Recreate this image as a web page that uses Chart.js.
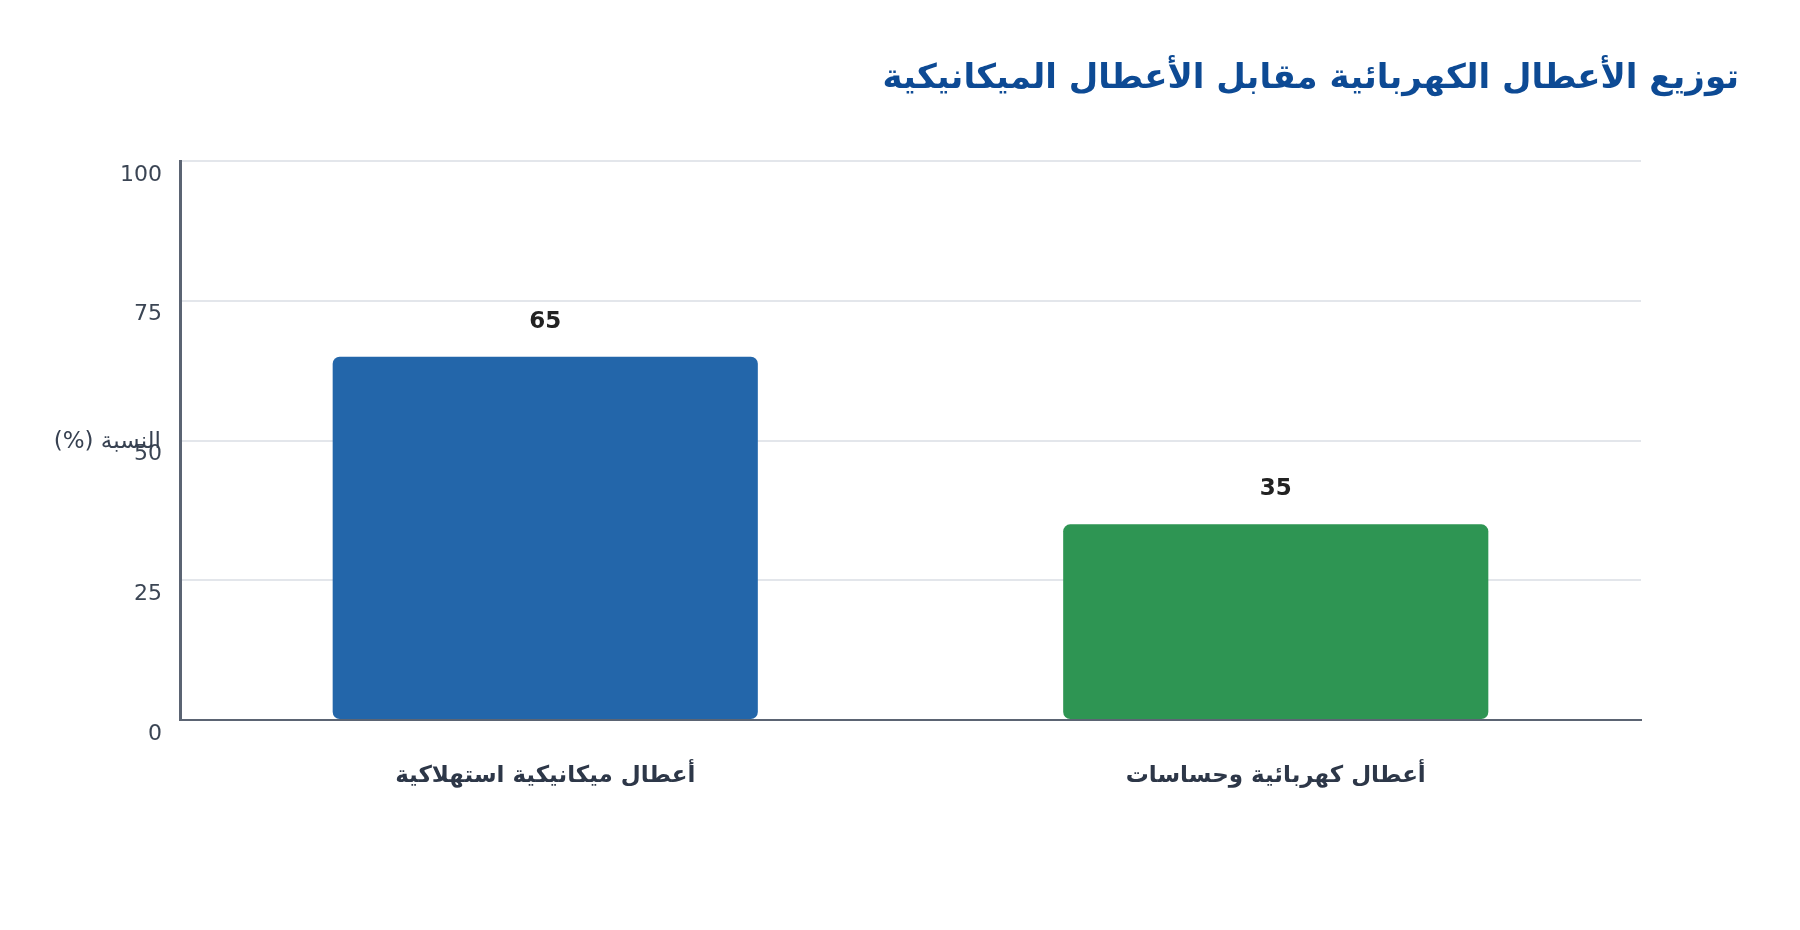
<!DOCTYPE html>
<html lang="ar">
<head>
<meta charset="utf-8">
<script src="https://cdn.jsdelivr.net/npm/chart.js@4.4.1/dist/chart.umd.min.js"></script>
<style>
  html, body { margin: 0; padding: 0; background: #ffffff; }
  #wrap { width: 1800px; height: 930px; }
</style>
</head>
<body>
<div id="wrap"><canvas id="chart"></canvas></div>
<script>
const chartTitle = 'توزيع الأعطال الكهربائية مقابل الأعطال الميكانيكية';
const yTitle = 'النسبة (%)';
const categories = ['أعطال ميكانيكية استهلاكية', 'أعطال كهربائية وحساسات'];
const shares = [65, 35];
const barColors = ['#2366aa', '#2e9553'];
const yTicks = [0, 25, 50, 75, 100];

const FONT = "'DejaVu Sans', sans-serif";

// title, horizontal y-axis title and the value labels above the bars
const extras = {
  id: 'extras',
  afterDraw(chart) {
    const { ctx, chartArea } = chart;
    ctx.save();
    ctx.direction = 'rtl';

    ctx.fillStyle = '#0d4a94';
    ctx.font = 'bold 34px ' + FONT;
    ctx.textAlign = 'right';
    ctx.textBaseline = 'middle';
    ctx.fillText(chartTitle, 1739, 79);

    ctx.fillStyle = '#374151';
    ctx.font = '23px ' + FONT;
    ctx.fillText(yTitle, 161, (chartArea.top + chartArea.bottom) / 2 + 2);

    ctx.fillStyle = '#222222';
    ctx.font = 'bold 23px ' + FONT;
    ctx.textAlign = 'center';
    chart.getDatasetMeta(0).data.forEach((bar, i) => {
      ctx.fillText(String(shares[i]), bar.x, bar.y - 35);
    });
    ctx.restore();
  }
};

new Chart(document.getElementById('chart'), {
  type: 'bar',
  data: {
    labels: categories,
    datasets: [{
      data: shares,
      backgroundColor: barColors,
      borderRadius: 7,
      borderSkipped: false,
      barPercentage: 0.582,
      categoryPercentage: 1.0
    }]
  },
  options: {
    responsive: true,
    maintainAspectRatio: false,
    animation: false,
    devicePixelRatio: 1,
    layout: { padding: { top: 161, right: 159, bottom: 0, left: 0 } },
    plugins: {
      legend: { display: false },
      tooltip: { enabled: false },
      title: { display: false }
    },
    scales: {
      x: {
        afterFit: (scale) => { scale.height = 210; },
        grid: { display: false },
        border: { display: true, color: '#5b6473', width: 2 },
        ticks: {
          padding: 34,
          color: '#2d3748',
          font: { family: FONT, size: 23, weight: 'bold' }
        }
      },
      y: {
        min: 0,
        max: 100,
        afterFit: (scale) => { scale.width = 180; },
        afterBuildTicks: (scale) => { scale.ticks = yTicks.map(v => ({ value: v })); },
        grid: { color: '#e3e6eb', lineWidth: 2, drawTicks: false },
        border: { display: true, color: '#5b6473', width: 3 },
        ticks: {
          padding: 18,
          labelOffset: 14,
          color: '#3b4554',
          font: { family: FONT, size: 22 }
        }
      }
    }
  },
  plugins: [extras]
});
</script>
</body>
</html>
